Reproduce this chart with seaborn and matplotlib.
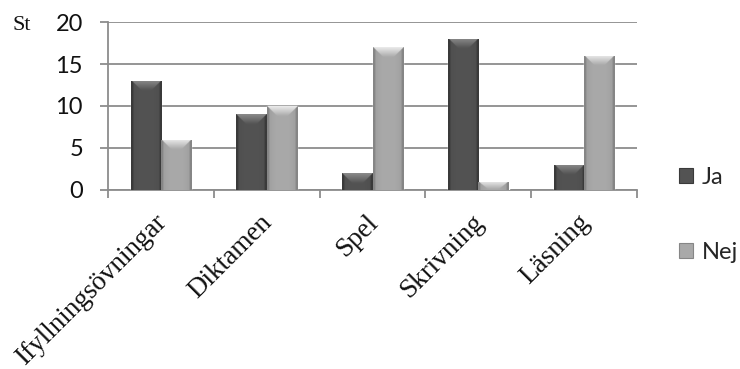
import numpy as np
import pandas as pd
import matplotlib
matplotlib.use("Agg")
import matplotlib.pyplot as plt
import seaborn as sns
from matplotlib.patches import Patch
from matplotlib.transforms import ScaledTranslation

categories = ["Ifyllningsövningar", "Diktamen", "Spel", "Skrivning", "Läsning"]
ja = [13, 9, 2, 18, 3]
nej = [6, 10, 17, 1, 16]
series = ["Ja", "Nej"]
y_ticks = [0, 5, 10, 15, 20]

df = pd.DataFrame({
    "Aktivitet": categories * 2,
    "St": ja + nej,
    "Svar": ["Ja"] * len(ja) + ["Nej"] * len(nej),
})

base = {"Ja": "#535353", "Nej": "#a9a9a9"}
top_light = {"Ja": "#8c8c8c", "Nej": "#ececec"}
edge_dark = {"Ja": "#3a3a3a", "Nej": "#868686"}

sns.set_style("white")
plt.rcParams["font.family"] = ["Lato", "DejaVu Sans"]
SERIF = ["Liberation Serif", "DejaVu Serif"]

W, H = 740, 369
fig = plt.figure(figsize=(W / 100, H / 100), dpi=100)
ax_l, ax_r, ax_t, ax_b = 108, 637, 22, 190
ax = fig.add_axes([ax_l / W, 1 - ax_b / H, (ax_r - ax_l) / W, (ax_b - ax_t) / H])

sns.barplot(data=df, x="Aktivitet", y="St", hue="Svar", palette=base,
            width=0.571, gap=0, saturation=1, legend=False, ax=ax, zorder=3)

ax.set_xlim(-0.5, 4.5)
ax.set_ylim(0, 20)

px_x = (ax_r - ax_l) / 5.0       # pixels per category unit
px_y = (ax_b - ax_t) / 20.0      # pixels per value unit


def hex_rgb(c):
    return np.array(matplotlib.colors.to_rgb(c))


def shaded_image(nx, ny, key, ss):
    """Bevelled bar face: lit top, darker narrow sides."""
    b = hex_rgb(base[key])
    tl = hex_rgb(top_light[key])
    ed = hex_rgb(edge_dark[key])
    xs = (np.arange(nx) + 0.5) / ss
    ys = (np.arange(ny) + 0.5) / ss
    wpx = nx / ss
    X, Y = np.meshgrid(xs, ys)
    dl = X
    dr = wpx - X
    dt = Y
    img = np.ones((ny, nx, 3)) * b
    u = X / wpx
    f = 1.0 - 0.10 * np.abs(2 * u - 1) ** 3
    img = img * f[..., None]
    side = np.minimum(dl, dr) < 2.5
    img[side] = ed
    bh = min(10.0, ny / ss * 0.9)
    bw = 10.0
    topf = (dt < bh) & (dt / bh < np.minimum(dl, dr) / bw)
    t = np.clip(dt / max(bh, 1e-6), 0, 1)[..., None]
    grad = tl * (1 - t) + b * t
    img[topf] = grad[topf]
    return np.clip(img, 0, 1)


bars = [p for p in ax.patches]
keys = ["Ja"] * len(ja) + ["Nej"] * len(nej)
ss = 3
for p, key in zip(bars, keys):
    x0 = p.get_x()
    w = p.get_width()
    h = p.get_height()
    if h <= 0:
        continue
    nx = max(int(round(w * px_x * ss)), 2)
    ny = max(int(round(h * px_y * ss)), 2)
    img = shaded_image(nx, ny, key, ss)
    im = ax.imshow(img, extent=[x0, x0 + w, 0, h], aspect="auto",
                   interpolation="bilinear", zorder=4)
    im.set_clip_path(p)

ax.set_xlim(-0.5, 4.5)
ax.set_ylim(0, 20)

ax.set_yticks(y_ticks)
ax.yaxis.grid(True, color="#8c8c8c", lw=1.3, zorder=0)
ax.xaxis.grid(False)
ax.set_axisbelow(True)
for s in ["top", "right"]:
    ax.spines[s].set_visible(False)
for s in ["left", "bottom"]:
    ax.spines[s].set_color("#8c8c8c")
    ax.spines[s].set_linewidth(1.3)

ax.tick_params(axis="y", length=6, width=1.3, color="#8c8c8c", pad=12,
               labelsize=17, labelcolor="#111111", direction="out", left=True)
ax.set_yticklabels([str(v) for v in y_ticks])

# category boundaries carry the tick marks; names are set diagonally below
ax.set_xticks(np.arange(-0.5, len(categories), 1.0))
ax.set_xticklabels([])
ax.tick_params(axis="x", length=6, width=1.3, color="#8c8c8c",
               direction="out", bottom=True)
ax.set_xlabel("")
ax.set_ylabel("")

label_off = ScaledTranslation(-7 / 100, -20 / 100, fig.dpi_scale_trans)
for i, name in enumerate(categories):
    ax.text(i, 0, name, rotation=45, ha="right", va="top",
            rotation_mode="anchor", family=SERIF, fontsize=19.5,
            color="#111111",
            transform=ax.get_xaxis_transform() + label_off)

fig.text(13 / W, 1 - 25 / H, "St", family=SERIF,
         fontsize=16, va="center", ha="left", color="#111111")

handles = [Patch(facecolor=base[k], edgecolor=edge_dark[k], lw=0.8) for k in series]
fig.legend(handles, series, loc="upper left",
           bbox_to_anchor=(679 / W, 1 - 167 / H), frameon=False,
           fontsize=17, handlelength=0.6, handleheight=0.6, handletextpad=0.35,
           labelspacing=2.3, borderpad=0, borderaxespad=0)

fig.savefig("out.png", dpi=100)
